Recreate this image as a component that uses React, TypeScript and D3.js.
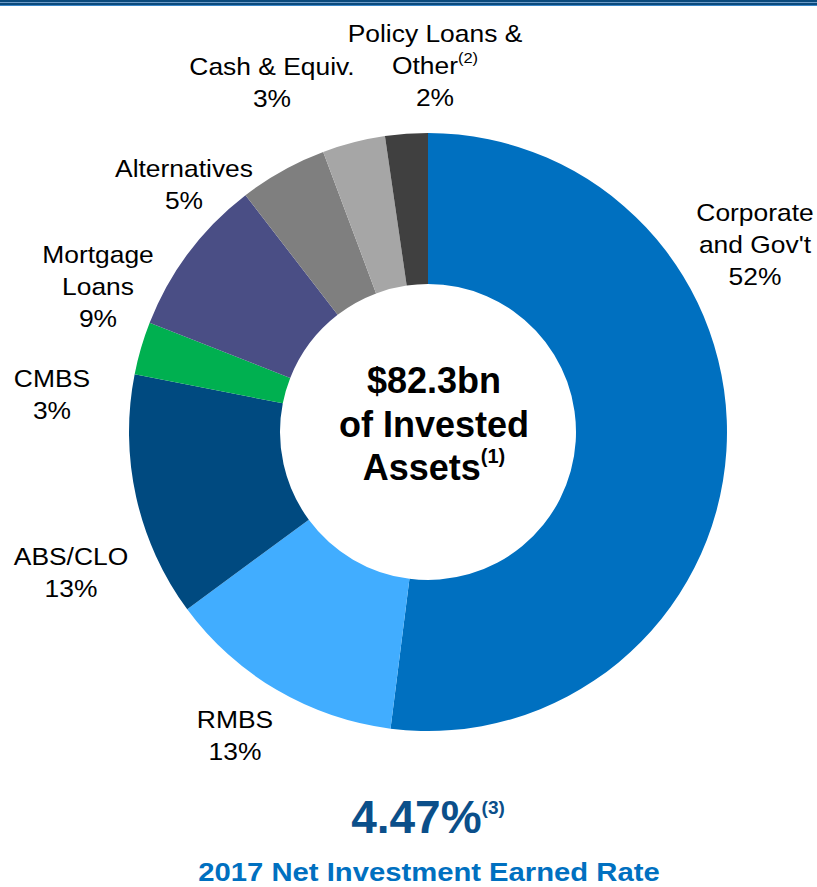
import React from "react";
import * as d3 from "d3";

const categories = ["Corporate and Gov't", "RMBS", "ABS/CLO", "CMBS", "Mortgage Loans", "Alternatives", "Cash & Equiv.", "Policy Loans & Other"];
const values = [52, 12.9, 13.2, 2.85, 8.6, 4.75, 3.4, 2.3];
const pctLabels = ["52%", "13%", "13%", "3%", "9%", "5%", "3%", "2%"];
const colors = ["#0070C0", "#41ADFF", "#004A80", "#00B050", "#4A4E85", "#7F7F7F", "#A6A6A6", "#404040"];

// label text lines (without the percentage line)
const labelText: string[][] = [
  ["Corporate", "and Gov't"],
  ["RMBS"],
  ["ABS/CLO"],
  ["CMBS"],
  ["Mortgage", "Loans"],
  ["Alternatives"],
  ["Cash & Equiv."],
  ["Policy Loans &", "Other"],
];
const labelSup = ["", "", "", "", "", "", "", "(2)"];

const centerTitle = ["$82.3bn", "of Invested", "Assets"];
const rateValue = "4.47%";
const rateCaption = "2017 Net Investment Earned Rate";

// label anchor positions (center x, first baseline)
const labelPos = [
  { x: 755, y: 221 },
  { x: 235, y: 728 },
  { x: 71, y: 565 },
  { x: 52, y: 387 },
  { x: 98, y: 263 },
  { x: 184, y: 177 },
  { x: 272, y: 75 },
  { x: 435, y: 42 },
];

export default function App() {
  const W = 817, H = 887;
  const cx = 428, cy = 432, R = 299, r = 148;
  const pie = d3.pie<number>().sort(null).value((d) => d)(values);
  const arc = d3.arc<d3.PieArcDatum<number>>().innerRadius(r).outerRadius(R);
  const font = "Liberation Sans, Arial, sans-serif";
  const lh = 32;
  return (
    <svg width={W} height={H} style={{ position: "absolute", left: 0, top: 0, background: "#fff" }} fontFamily={font}>
      <rect x={0} y={0} width={W} height={2} fill="#0B4A7D" />
      <rect x={0} y={2} width={W} height={1} fill="#6E9CC8" />
      <rect x={0} y={3} width={W} height={2} fill="#0B4A7D" />
      <rect x={0} y={5} width={W} height={1} fill="#3A86C8" />
      <g transform={`translate(${cx},${cy})`}>
        {pie.map((p, i) => (
          <path key={categories[i]} d={arc(p) || ""} fill={colors[i]} />
        ))}
      </g>
      {labelText.map((lines, i) => {
        const all = [...lines, pctLabels[i]];
        const P = labelPos[i];
        return (
          <g key={categories[i]}>
            {all.map((t, k) => (
              <text key={k} transform={`translate(${P.x},${P.y + k * lh}) scale(1.1,1)`} textAnchor="middle" fontSize={24} fill="#000">
                {t}
                {labelSup[i] && k === 1 ? (
                  <tspan fontSize={15} dy={-11}>{labelSup[i]}</tspan>
                ) : null}
              </text>
            ))}
          </g>
        );
      })}
      <g fontWeight="bold" fill="#000">
        {centerTitle.map((t, k) => (
          <text key={k} x={434} y={393 + k * 43.5} textAnchor="middle" fontSize={36}>
            {t}
            {k === 2 ? <tspan fontSize={20} dy={-17}>(1)</tspan> : null}
          </text>
        ))}
      </g>
      <text x={428} y={833} textAnchor="middle" fontSize={46} fontWeight="bold" fill="#0B4F8A">
        {rateValue}
        <tspan fontSize={19} dy={-19}>(3)</tspan>
      </text>
      <text transform="translate(429,881) scale(1.17,1)" textAnchor="middle" fontSize={25} fontWeight="bold" fill="#0070C0">
        {rateCaption}
      </text>
    </svg>
  );
}
